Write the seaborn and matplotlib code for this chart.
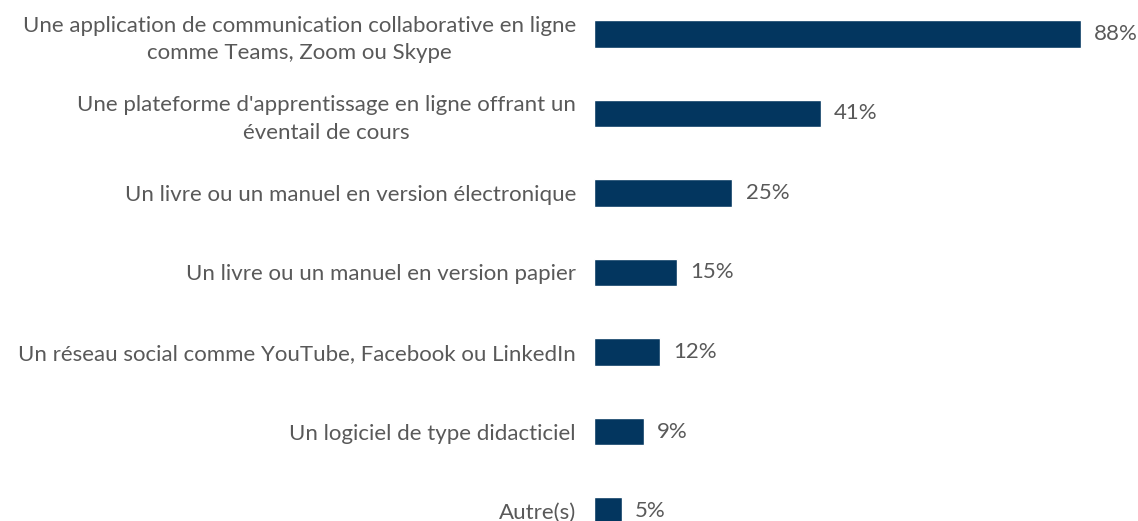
import matplotlib
matplotlib.use("Agg")
import matplotlib.pyplot as plt
import seaborn as sns
import pandas as pd

categories = [
    "Une application de communication collaborative en ligne\ncomme Teams, Zoom ou Skype",
    "Une plateforme d'apprentissage en ligne offrant un\néventail de cours",
    "Un livre ou un manuel en version électronique",
    "Un livre ou un manuel en version papier",
    "Un réseau social comme YouTube, Facebook ou LinkedIn",
    "Un logiciel de type didacticiel",
    "Autre(s)",
]
values = [88, 41, 25, 15, 12, 9, 5]

df = pd.DataFrame({"outil": categories, "pct": values})

sns.set_theme(style="white")
plt.rcParams["font.family"] = ["Lato", "DejaVu Sans"]

BAR = "#03365F"
TXT = "#595959"
FS = 16

fig = plt.figure(figsize=(11.38, 5.21), dpi=100)
ax = fig.add_axes([594 / 1138, 0, 544 / 1138, 1])

sns.barplot(data=df, x="pct", y="outil", orient="h", color=BAR,
            saturation=1, width=0.35, ax=ax)

ax.set_xlim(0, 88 * 544 / 487)
ax.set_ylim((521 - 34) / 79.5, -34 / 79.5)

for i, v in enumerate(values):
    ax.text(v + 2.4, i, f"{v}%", va="center", ha="left",
            fontsize=FS, color=TXT)

ax.set_xlabel("")
ax.set_ylabel("")
ax.set_xticks([])
ax.tick_params(axis="y", length=0, pad=13, labelsize=FS, labelcolor=TXT)
for lab in ax.get_yticklabels():
    lab.set_multialignment("center")
    lab.set_linespacing(1.45)
sns.despine(ax=ax, left=True, bottom=True)

fig.savefig("out.png", dpi=100)
